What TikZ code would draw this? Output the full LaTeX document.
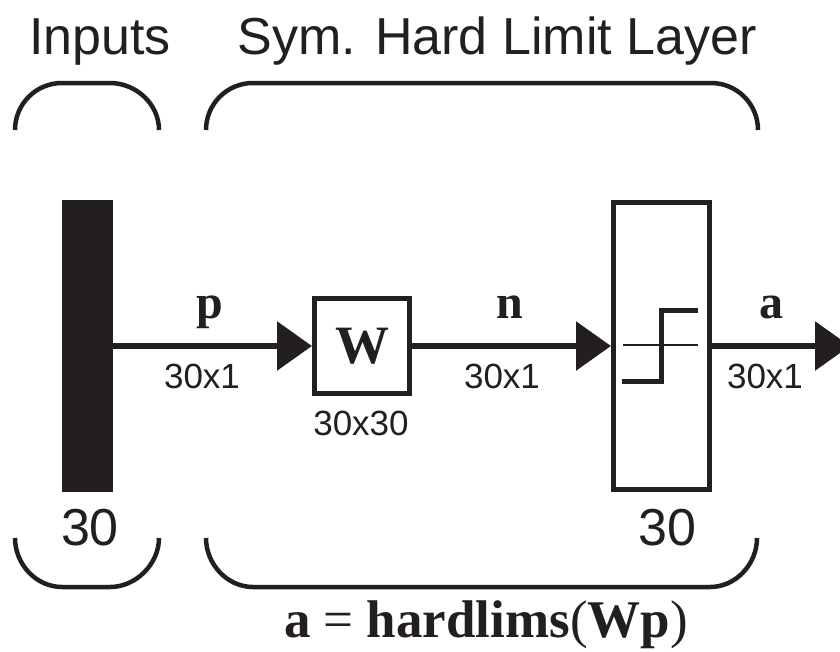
\documentclass[tikz,border=0pt]{standalone}
\usepackage{fontspec}
\setmainfont{Liberation Serif}
\setsansfont{Liberation Sans}
\usetikzlibrary{arrows.meta}
\definecolor{ink}{RGB}{35,31,32}
\begin{document}
\begin{tikzpicture}[x=1pt,y=-1pt,
  every node/.style={text=ink,inner sep=0pt},
  hdr/.style={font=\fontsize{52}{60}\selectfont\sffamily,anchor=base},
  dim/.style={font=\fontsize{35}{40}\selectfont\sffamily,anchor=base},
  sym/.style={font=\fontsize{48}{54}\selectfont\bfseries,anchor=base},
  brace/.style={draw=ink,line width=4.5pt},
  blk/.style={draw=ink,line width=5pt},
  conn/.style={draw=ink,line width=6pt,-{Triangle[length=35pt,width=48pt]}}
]
\clip (0,0) rectangle (840,651);
\fill[white] (0,0) rectangle (840,651);

% headers
\node[hdr] (hin) at (100,54) {Inputs};
\node[hdr] (hlay) at (497,54) {Sym. Hard Limit Layer};

% top braces
\draw[brace] (15,130) .. controls (15,104) and (36,83) .. (62,83) -- (110,83)
  .. controls (136,83) and (159,104) .. (159,130);
\draw[brace] (206,130) .. controls (206,104) and (227,83) .. (253,83) -- (711,83)
  .. controls (737,83) and (758,104) .. (758,130);

% bottom braces
\draw[brace] (15,538) .. controls (15,564) and (36,587) .. (62,587) -- (110,587)
  .. controls (136,587) and (159,564) .. (159,538);
\draw[brace] (206,538) .. controls (206,564) and (227,587) .. (253,587) -- (710,587)
  .. controls (736,587) and (757,564) .. (757,538);

% blocks
\node[fill=ink,minimum width=51pt,minimum height=292pt] (inp) at (87.5,346) {};
\node[blk,minimum width=95pt,minimum height=95pt] (W) at (362,346)
  {\fontsize{54}{60}\selectfont\bfseries W};
\node[blk,minimum width=96pt,minimum height=287pt] (lay) at (661.5,346) {};
\coordinate (out) at (850,346);

% step symbol
\draw[ink,line width=2pt] (623,345) -- (698,345);
\draw[ink,line width=5pt] (622,381) -- (661,381) -- (661,310) -- (698,310);

% connectors
\draw[conn] (inp.east) -- (W.west);
\draw[conn] (W.east) -- (lay.west);
\draw[conn] (lay.east) -- (out);

% labels
\node[sym] (lp) at (210,318) {p};
\node[sym] (ln) at (510,318) {n};
\node[sym] (la) at (771,318) {a};
\node[dim] (d1) at (202,388) {30x1};
\node[dim] (d2) at (502,388) {30x1};
\node[dim] (d3) at (765,388) {30x1};
\node[dim] (d4) at (361,435) {30x30};
\node[hdr] (n1) at (90,545) {30};
\node[hdr] (n2) at (667,545) {30};

% equation
\node[font=\fontsize{53}{60}\selectfont,anchor=base] (eq) at (486,637)
  {\textbf{a} = \textbf{hardlims}(\textbf{Wp})};
\end{tikzpicture}
\end{document}
